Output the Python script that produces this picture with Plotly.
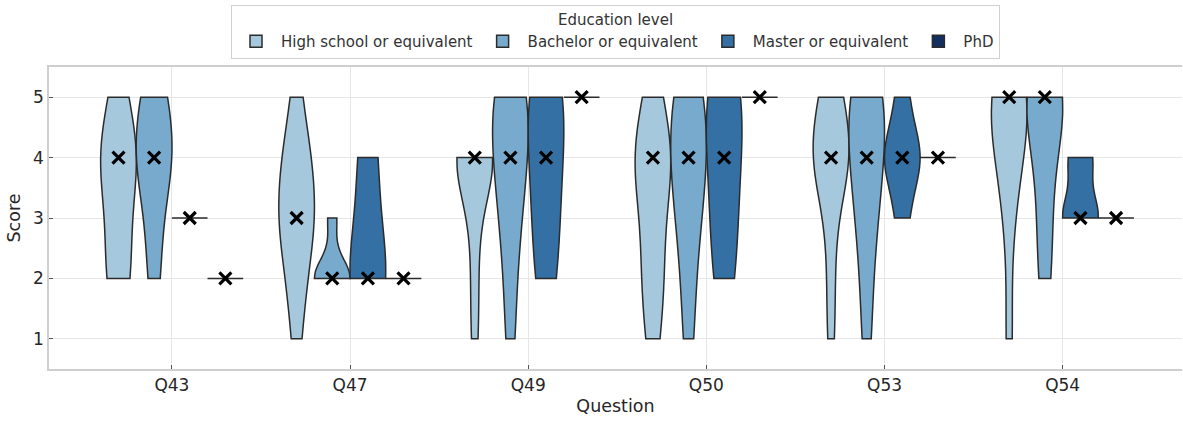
import numpy as np
import plotly.graph_objects as go

questions = ["Q43", "Q47", "Q49", "Q50", "Q53", "Q54"]
levels = ["High school or equivalent", "Bachelor or equivalent",
          "Master or equivalent", "PhD"]
colors = ["#a6c8dd", "#77aacc", "#3470a3", "#132f5f"]

# scores per question, same order as `questions`
high_school = [
    [2, 2, 3, 4, 4, 4, 5],
    [1, 2, 2, 3, 3, 3, 3, 4, 4, 4, 5],
    [1, 2, 3, 4, 4, 4, 4, 4, 4, 4],
    [1, 2, 2, 3, 4, 4, 4, 4, 5],
    [1, 2, 3, 4, 4, 4, 4, 4, 4, 5, 5, 5],
    [1, 3, 4, 4, 5, 5, 5, 5, 5],
]
bachelor = [
    [2, 3, 4, 4, 4, 5, 5],
    [2, 2, 2, 2, 3],
    [1, 2, 3, 3, 4, 4, 4, 5, 5, 5, 5],
    [1, 2, 3, 3, 4, 4, 4, 5, 5, 5],
    [1, 2, 3, 3, 4, 4, 4, 5, 5, 5, 5],
    [2, 3, 4, 5, 5, 5, 5],
]
master = [
    [3],
    [2, 2, 4],
    [2, 3, 4, 5, 5],
    [2, 3, 4, 5, 5],
    [3, 4, 4, 4, 5],
    [3, 3, 3, 4, 4],
]
phd = [[2], [2], [5], [5], [4], [3]]

scores = [high_school, bachelor, master, phd]


def scott_bw(vals):
    # same bandwidth rule seaborn uses (scipy gaussian_kde, scott)
    vals = np.asarray(vals, dtype=float)
    if len(vals) < 2 or vals.std() == 0:
        return None
    return vals.std(ddof=1) * len(vals) ** (-1 / 5)


fig = go.Figure()
slot = 0.8 / len(levels)

for k, (level, color, data) in enumerate(zip(levels, colors, scores)):
    for i, vals in enumerate(data):
        fig.add_trace(go.Violin(
            x=[i] * len(vals), y=vals,
            name=level, legendgroup=level, showlegend=(i == 0),
            offsetgroup=level, alignmentgroup="all",
            scalegroup=f"{level}-{i}",  # each violin gets full width
            fillcolor=color, line=dict(color="#2b2b2b", width=1.5),
            opacity=1, points=False, spanmode="hard", scalemode="width",
            bandwidth=scott_bw(vals), hoverinfo="skip",
        ))
    # medians
    fig.add_trace(go.Scatter(
        x=[i + (k - 1.5) * slot for i in range(len(questions))],
        y=[np.median(v) for v in data],
        mode="markers", showlegend=False, hoverinfo="skip",
        marker=dict(symbol="x-thin", size=12, color="black",
                    line=dict(color="black", width=3.2)),
    ))

fig.update_layout(
    width=1183, height=422,
    margin=dict(l=49, r=1, t=67, b=53),
    paper_bgcolor="white", plot_bgcolor="white",
    font=dict(family="DejaVu Sans", color="#262626"),
    violinmode="group", violingap=0.2, violingroupgap=0,
    legend=dict(
        orientation="h", x=0.5, xanchor="center", y=1.028, yanchor="bottom",
        bordercolor="#d0d0d0", borderwidth=1, bgcolor="white",
        itemwidth=40,
        font=dict(size=15, color="#333333"),
        title=dict(text="Education level", side="top center",
                   font=dict(size=15, color="#333333")),
    ),
)

fig.update_xaxes(
    range=[-0.69, 5.67], tickvals=list(range(len(questions))), ticktext=questions,
    showgrid=True, gridcolor="#e6e6e6", gridwidth=1, zeroline=False,
    showline=True, linecolor="#cfcfcf", linewidth=1.5, mirror=True,
    ticks="inside", ticklen=4, tickcolor="#555555",
    tickfont=dict(size=17), title=dict(text="Question", font=dict(size=17.5), standoff=6),
)
fig.update_yaxes(
    range=[0.5, 5.5], tickvals=[1, 2, 3, 4, 5],
    showgrid=True, gridcolor="#e6e6e6", gridwidth=1, zeroline=False,
    showline=True, linecolor="#cfcfcf", linewidth=1.5,
    ticks="inside", ticklen=4, tickcolor="#555555",
    tickfont=dict(size=17), title=dict(text="Score", font=dict(size=17.5), standoff=8),
)

# drop the default 8px body margin so the figure sits at the page corner
fig.write_html("out.html", config={"displayModeBar": False},
               post_script="document.body.style.margin='0';")
